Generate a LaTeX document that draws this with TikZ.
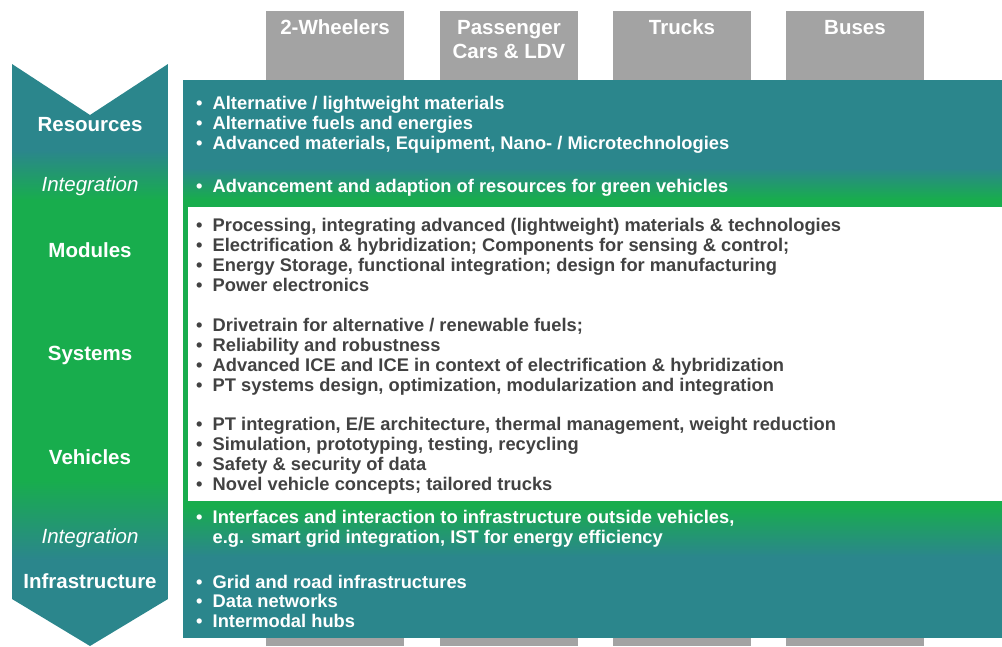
\documentclass[tikz,border=0pt]{standalone}
\usepackage{fontspec}
\setmainfont{Liberation Sans}
\usetikzlibrary{positioning}
\definecolor{eeteal}{RGB}{43,134,140}
\definecolor{eegreen}{RGB}{24,173,77}
\definecolor{eegray}{RGB}{163,163,163}
\definecolor{eetext}{RGB}{66,66,66}
\pgfdeclareverticalshading{leftshade}{100bp}{color(0bp)=(eeteal); color(32.4bp)=(eeteal); color(39.25bp)=(eegreen); color(63.3bp)=(eegreen); color(67.6bp)=(eeteal); color(100bp)=(eeteal)}
\pgfdeclareverticalshading{boxshade}{100bp}{color(0bp)=(eeteal); color(32.2bp)=(eeteal); color(36.85bp)=(eegreen); color(64.25bp)=(eegreen); color(67.1bp)=(eeteal); color(100bp)=(eeteal)}
\tikzset{
  head/.style={text=white, font=\bfseries\fontsize{20.5}{24}\selectfont, inner sep=0pt, anchor=base},
  level/.style={text=white, font=\bfseries\fontsize{20.5}{24}\selectfont, inner sep=0pt, anchor=base},
  integ/.style={level, font=\itshape\fontsize{20.5}{24}\selectfont},
  item/.style={font=\bfseries\fontsize{18.3}{20}\selectfont, inner sep=0pt, anchor=base west},
  onteal/.style={item, text=white},
  onwhite/.style={item, text=eetext},
}
\newcommand{\bul}{\makebox[16.5pt][l]{\textbullet}}

\begin{document}
\begin{tikzpicture}[x=1pt,y=1pt]
    \useasboundingbox (0,0) rectangle (1002,-646);

    % vehicle columns
    \foreach \x in {266,440,613,786}
        \fill[eegray] (\x,-11) rectangle ++(138,-635);
    \node[head] (wheel) at (335,-34) {2-Wheelers};
    \node[head] (pass) at (509,-34) {Passenger};
    \node[head] (cars) at (509,-58) {Cars \& LDV};
    \node[head] (truck) at (682,-34) {Trucks};
    \node[head] (bus) at (855,-34) {Buses};

    % main box and white middle part
    \shade[shading=boxshade] (183,-80) rectangle (1002,-637);
    \fill[white] (188,-207) rectangle (1002,-501);

    % left arrow
    \shade[shading=leftshade] (12,-64) -- (90,-115) -- (168,-64) -- (168,-599) -- (90,-646) -- (12,-599) -- cycle;
    \node[level] (res) at (90,-131) {Resources};
    \node[integ] (intA) at (90,-191) {Integration};
    \node[level] (mod) at (90,-257) {Modules};
    \node[level] (sys) at (90,-360) {Systems};
    \node[level] (veh) at (90,-464) {Vehicles};
    \node[integ] (intB) at (90,-543) {Integration};
    \node[level] (infra) at (90,-588) {Infrastructure};

    % items
    \foreach \y/\t [count=\i] in {109/{Alternative / lightweight materials},
        129/{Alternative fuels and energies},
        149/{Advanced materials, Equipment, Nano- / Microtechnologies}}
        \node[onteal] (r\i) at (196,-\y) {\bul\t};
    \node[onteal] (ia) at (196,-192) {\bul Advancement and adaption of resources for green vehicles};
    \foreach \y/\t [count=\i] in {231/{Processing, integrating advanced (lightweight) materials \& technologies},
        251/{Electrification \& hybridization; Components for sensing \& control;},
        271/{Energy Storage, functional integration; design for manufacturing},
        291/{Power electronics}}
        \node[onwhite] (m\i) at (196,-\y) {\bul\t};
    \foreach \y/\t [count=\i] in {331/{Drivetrain for alternative / renewable fuels;},
        351/{Reliability and robustness},
        371/{Advanced ICE and ICE in context of electrification \& hybridization},
        391/{PT systems design, optimization, modularization and integration}}
        \node[onwhite] (s\i) at (196,-\y) {\bul\t};
    \foreach \y/\t [count=\i] in {430/{PT integration, E/E architecture, thermal management, weight reduction},
        450/{Simulation, prototyping, testing, recycling},
        470/{Safety \& security of data},
        490/{Novel vehicle concepts; tailored trucks}}
        \node[onwhite] (v\i) at (196,-\y) {\bul\t};
    \node[onteal] (ib1) at (196,-523) {\bul Interfaces and interaction to infrastructure outside vehicles,};
    \node[onteal] (ib2) at (212.5,-543) {e.g. smart grid integration, IST for energy efficiency};
    \foreach \y/\t [count=\i] in {588/{Grid and road infrastructures},
        607/{Data networks},
        627/{Intermodal hubs}}
        \node[onteal] (f\i) at (196,-\y) {\bul\t};

\end{tikzpicture}
\end{document}
